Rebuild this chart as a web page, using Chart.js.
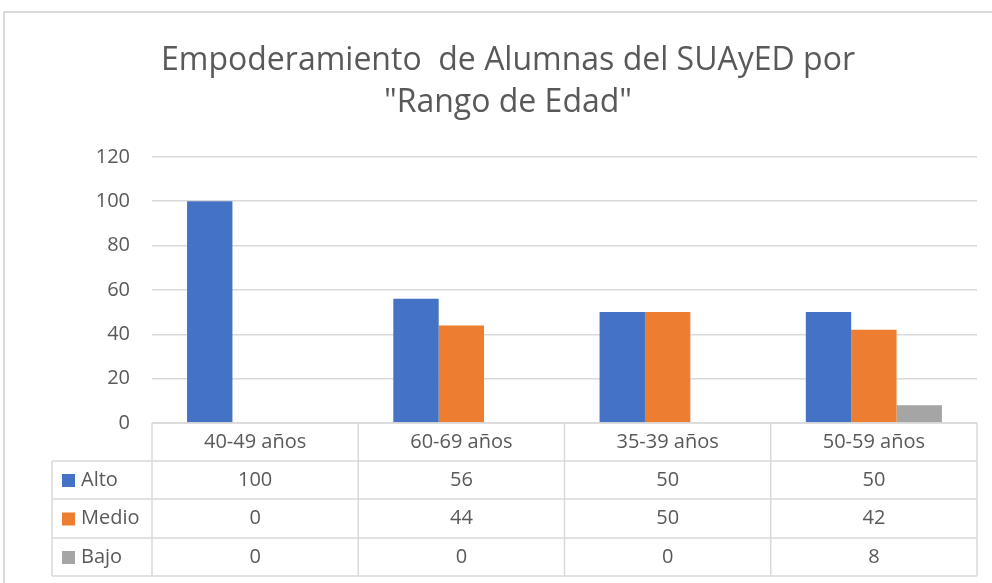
<!DOCTYPE html>
<html>
<head>
<meta charset="utf-8">
<script src="https://cdn.jsdelivr.net/npm/chart.js@4/dist/chart.umd.min.js"></script>
<style>
  html, body { margin: 0; padding: 0; background: #fff; }
  #wrap { width: 992px; height: 583px; position: relative; }
</style>
</head>
<body>
<div id="wrap"><canvas id="myChart" width="992" height="583"></canvas></div>
<script>
  /* Data
  -----------------------------------------------*/
  const categories = ['40-49 años', '60-69 años', '35-39 años', '50-59 años'];
  const seriesNames = ['Alto', 'Medio', 'Bajo'];
  const alto = [100, 56, 50, 50];
  const medio = [0, 44, 50, 42];
  const bajo = [0, 0, 0, 8];
  const yTicks = [0, 20, 40, 60, 80, 100, 120];
  const colors = ['#4472C4', '#ED7D31', '#A5A5A5'];

  const FONT = '"Open Sans", sans-serif';
  const TEXT = '#595959';
  const LINE = '#d9d9d9';

  // table under the plot, like the excel data table
  const dataTable = {
    id: 'dataTable',
    beforeDraw(chart) {
      const ctx = chart.ctx;
      ctx.save();
      // chart frame
      ctx.strokeStyle = LINE;
      ctx.lineWidth = 2;
      ctx.beginPath();
      ctx.moveTo(4, 583);
      ctx.lineTo(4, 12);
      ctx.lineTo(992, 12);
      ctx.stroke();
      ctx.restore();
    },
    afterDraw(chart) {
      const ctx = chart.ctx;
      const x = chart.scales.x;
      const area = chart.chartArea;
      const rows = [area.bottom, 461, 499, 538, 576];
      const legendLeft = 52;
      const step = x.getPixelForValue(1) - x.getPixelForValue(0);
      const edges = categories.map((c, i) => x.getPixelForValue(i) - step / 2);
      edges.push(x.getPixelForValue(categories.length - 1) + step / 2);

      ctx.save();
      ctx.strokeStyle = LINE;
      ctx.lineWidth = 1.5;
      ctx.beginPath();
      // horizontals
      ctx.moveTo(edges[0], rows[0]); ctx.lineTo(edges[edges.length - 1], rows[0]);
      for (let r = 1; r < rows.length; r++) {
        ctx.moveTo(legendLeft, rows[r]); ctx.lineTo(edges[edges.length - 1], rows[r]);
      }
      // verticals
      ctx.moveTo(legendLeft, rows[1]); ctx.lineTo(legendLeft, rows[rows.length - 1]);
      edges.forEach(e => { ctx.moveTo(e, rows[0]); ctx.lineTo(e, rows[rows.length - 1]); });
      ctx.stroke();

      ctx.fillStyle = TEXT;
      ctx.font = '20px ' + FONT;
      ctx.textBaseline = 'middle';
      ctx.textAlign = 'center';
      categories.forEach((c, i) => {
        ctx.fillText(c, x.getPixelForValue(i), (rows[0] + rows[1]) / 2);
      });
      chart.data.datasets.forEach((ds, d) => {
        const cy = (rows[d + 1] + rows[d + 2]) / 2;
        ds.data.forEach((v, i) => {
          ctx.fillStyle = TEXT;
          ctx.textAlign = 'center';
          ctx.fillText(String(v), x.getPixelForValue(i), cy);
        });
        ctx.fillStyle = ds.backgroundColor;
        ctx.fillRect(62, cy - 6, 13, 13);
        ctx.fillStyle = TEXT;
        ctx.textAlign = 'left';
        ctx.fillText(ds.label, 81, cy);
      });
      ctx.restore();
    }
  };

  let ctx = document.getElementById('myChart').getContext('2d');
  let myChart = new Chart(ctx, {
    type: 'bar',
    data: {
      labels: categories,
      datasets: [
        { label: seriesNames[0], data: alto, backgroundColor: colors[0] },
        { label: seriesNames[1], data: medio, backgroundColor: colors[1] },
        { label: seriesNames[2], data: bajo, backgroundColor: colors[2] }
      ]
    },
    options: {
      responsive: false,
      animation: false,
      layout: { padding: { left: 24, right: 0, top: 0, bottom: 160 } },
      datasets: { bar: { barPercentage: 1, categoryPercentage: 0.66 } },
      plugins: {
        legend: { display: false },
        tooltip: { enabled: false },
        title: {
          display: true,
          text: ['Empoderamiento  de Alumnas del SUAyED por', '"Rango de Edad"'],
          color: TEXT,
          font: { family: FONT, size: 32, weight: 'normal', lineHeight: 1.31 },
          padding: { top: 40, bottom: 33 }
        }
      },
      scales: {
        x: { display: false },
        y: {
          min: 0, max: 120,
          afterBuildTicks: s => { s.ticks = yTicks.map(v => ({ value: v })); },
          afterFit: s => { s.width = 128; },
          border: { display: false },
          grid: { color: LINE, lineWidth: 1.5, drawTicks: false },
          ticks: { color: TEXT, padding: 22, font: { family: FONT, size: 20 } }
        },
        // empty right side, keeps plot edge at excel position
        yRight: {
          position: 'right',
          min: 0, max: 120,
          afterFit: s => { s.width = 15; },
          border: { display: false },
          grid: { display: false },
          ticks: { display: false }
        }
      }
    },
    plugins: [dataTable]
  });
</script>
</body>
</html>
